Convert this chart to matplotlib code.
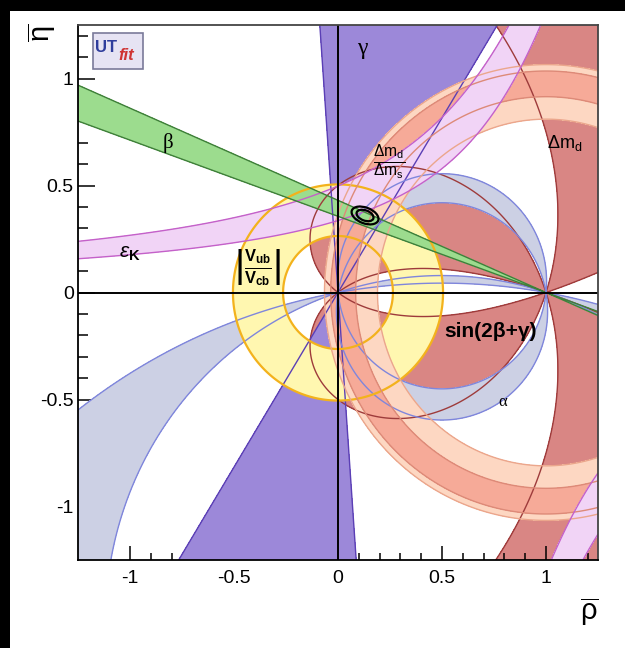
import numpy as np
import matplotlib
matplotlib.use("Agg")
import matplotlib.pyplot as plt
from matplotlib.patches import Ellipse, Rectangle
from matplotlib.ticker import MultipleLocator

plt.rcParams['font.family'] = ['Liberation Sans', 'DejaVu Sans']
plt.rcParams['mathtext.fontset'] = 'custom'
plt.rcParams['mathtext.rm'] = 'Liberation Sans'
plt.rcParams['mathtext.it'] = 'Liberation Sans:italic'
plt.rcParams['mathtext.bf'] = 'Liberation Sans:bold'

# plot range in (rho, eta)
rho_lim = [-1.25, 1.25]
eta_lim = [-1.25, 1.25]

# 95% constraint regions
beta_deg = [19.6, 23.3]                      # beta mod 180, line through (1,0)
gamma_deg = [58.5, 94.0]                     # gamma mod 180, line through (0,0)
alpha_deg = [[84.0, 100.0], [162.0, 170.0]]  # alpha solutions mod 180
sin2bg_min = 0.6                             # |sin(2beta+gamma)| lower bound
vub_r = [0.264, 0.505]                       # |Vub/Vcb| ring around (0,0)
dmd_r = [0.81, 1.065]                        # dm_d ring around (1,0)
dms_r = [0.915, 1.035]                       # dm_d/dm_s ring around (1,0)
epsk_b, epsk_c = 1.0, 0.21                   # eta*(b + c*eta - rho)
epsk_r = [0.36, 0.55]

# global fit
fit_rho, fit_eta = 0.13, 0.36
fit_w = [0.135, 0.085]
fit_h = [0.074, 0.048]
fit_angle = -20

xtick_pos = [-1, -0.5, 0, 0.5, 1]
xtick_lab = ['-1', '-0.5', '0', '0.5', '1']
ytick_pos = [-1, -0.5, 0, 0.5, 1]
ytick_lab = ['-1', '-0.5', '0', '0.5', '1']


def angle_band(ang, lims):
    # smooth field that is >= thr inside the band (angles taken mod 180)
    lo, hi = np.radians(lims)
    mid = 0.5 * (lo + hi)
    return np.cos(2 * (ang - mid)), np.cos(hi - lo)


rho = np.linspace(rho_lim[0], rho_lim[1], 1500)
eta = np.linspace(eta_lim[0], eta_lim[1], 1500)
R, E = np.meshgrid(rho, eta)
beta = np.arctan2(E, 1 - R)
gamma = np.arctan2(E, R)
alpha = np.arctan2(E, R - 1) - gamma

layers = []  # (field, lo, hi, fill, edge, lw, closed above)
layers.append((np.abs(np.sin(2 * beta + gamma)), sin2bg_min, 1.01, '#d98684', '#9e3b3b', 1.0, True))
f, t = angle_band(gamma, gamma_deg)
layers.append((f, t, 1.01, '#9c88d9', '#5b3fb5', 1.0, True))
for a in alpha_deg:
    f, t = angle_band(alpha, a)
    layers.append((f, t, 1.01, '#ccd0e4', '#7f86dc', 1.0, True))
rb = np.hypot(R, E)
layers.append((rb, vub_r[0], vub_r[1], '#fff7b0', '#f3b21c', 1.6, False))
rt = np.hypot(R - 1, E)
layers.append((rt, dmd_r[0], dmd_r[1], '#fdd7c2', '#eba68c', 1.0, False))
layers.append((rt, dms_r[0], dms_r[1], '#f6aa98', '#dd8a78', 1.0, False))
ek = E * (epsk_b + epsk_c * E - R)
layers.append((ek, epsk_r[0], epsk_r[1], '#f1d4f6', '#c461c9', 1.0, False))
f, t = angle_band(beta, beta_deg)
layers.append((f, t, 1.01, '#9cdc8e', '#3f7f3a', 1.0, True))

fig = plt.figure(figsize=(6.25, 6.48), dpi=100)
ax = fig.add_axes([78 / 625, 1 - 560 / 648, 520 / 625, 535 / 648])

z = 1
for field, lo, hi, fc, ec, lw, open_top in layers:
    ax.contourf(R, E, field, levels=[lo, hi], colors=[fc], zorder=z)
    z += 1
for field, lo, hi, fc, ec, lw, open_top in layers:
    lev = [lo] if open_top else [lo, hi]
    ax.contour(R, E, field, levels=lev, colors=[ec], linewidths=lw, zorder=z)
    z += 1

ax.axhline(0, color='black', lw=1.4, zorder=z)
ax.axvline(0, color='black', lw=1.4, zorder=z)
for w, h in zip(fit_w, fit_h):
    ax.add_patch(Ellipse((fit_rho, fit_eta), w, h, angle=fit_angle, fill=False,
                         ec='black', lw=1.6, zorder=z + 1))

ax.set_xlim(rho_lim)
ax.set_ylim(eta_lim)
ax.set_xticks(xtick_pos)
ax.set_xticklabels(xtick_lab)
ax.set_yticks(ytick_pos)
ax.set_yticklabels(ytick_lab)
ax.xaxis.set_minor_locator(MultipleLocator(0.1))
ax.yaxis.set_minor_locator(MultipleLocator(0.1))
ax.tick_params(which='both', direction='in', top=False, right=False,
               labelsize=14, width=1.1, colors='black', zorder=z + 2)
ax.tick_params(axis='x', which='major', length=10, pad=7)
ax.tick_params(axis='x', which='minor', length=5)
ax.tick_params(axis='y', which='major', length=12, pad=3)
ax.tick_params(axis='y', which='minor', length=7)
for s in ax.spines.values():
    s.set_linewidth(1.3)
    s.set_color('#444444')
    s.set_zorder(z + 2)
ax.spines['left'].set_color('black')
ax.spines['bottom'].set_color('black')

# band labels
tz = z + 3
ax.text(0.115, 1.14, 'γ', fontsize=17, family='Liberation Serif', ha='center', va='center', zorder=tz)
ax.text(-0.82, 0.70, 'β', fontsize=15, family='Liberation Serif', ha='center', va='center', zorder=tz)
ax.text(-1.0, 0.18, r'$\varepsilon_\mathbf{K}$', fontsize=15, ha='center', va='center', zorder=tz)
ax.text(-0.385, 0.116, r'$\left|\frac{\mathbf{V}_\mathbf{ub}}{\mathbf{V}_\mathbf{cb}}\right|$',
        fontsize=17, ha='center', va='center', zorder=tz)
ax.text(0.245, 0.61, r'$\frac{\Delta \mathrm{m}_\mathrm{d}}{\Delta \mathrm{m}_\mathrm{s}}$',
        fontsize=16, ha='center', va='center', zorder=tz)
ax.text(1.09, 0.70, r'$\Delta \mathrm{m}_\mathrm{d}$', fontsize=13, ha='center', va='center', zorder=tz)
ax.text(0.735, -0.18, 'sin(2β+γ)', fontsize=15, fontweight='bold', ha='center', va='center', zorder=tz)
ax.text(0.79, -0.51, 'α', fontsize=12, family='Liberation Serif', ha='center', va='center', zorder=tz)

# axis titles, ROOT style
fig.text(42 / 625, 1 - 33 / 648, r'$\overline{\mathrm{\eta}}$', rotation=90, rotation_mode='anchor',
         fontsize=21, ha='center', va='center')
fig.text(589 / 625, 1 - 612 / 648, r'$\overline{\mathrm{\rho}}$', fontsize=21, ha='center', va='center')

# logo
fig.patches.append(Rectangle((93 / 625, 1 - 69 / 648), 50 / 625, 36 / 648, transform=fig.transFigure,
                             fc='#e6e3f3', ec='#7a7a9a', lw=1.2, zorder=10))
fig.text(95 / 625, 1 - 48 / 648, 'UT', fontsize=12, fontweight='bold', color='#2f3d9c',
         ha='left', va='center', zorder=11)
fig.text(118 / 625, 1 - 56 / 648, 'fit', fontsize=12, fontweight='bold', style='italic', color='#cf3434',
         ha='left', va='center', zorder=11)

# dark frame on top and left edges
fig.patches.append(Rectangle((0, 1 - 11 / 648), 1, 11 / 648, transform=fig.transFigure, fc='black', ec='none'))
fig.patches.append(Rectangle((0, 0), 10 / 625, 1, transform=fig.transFigure, fc='black', ec='none'))

fig.savefig('out.png', dpi=100)
